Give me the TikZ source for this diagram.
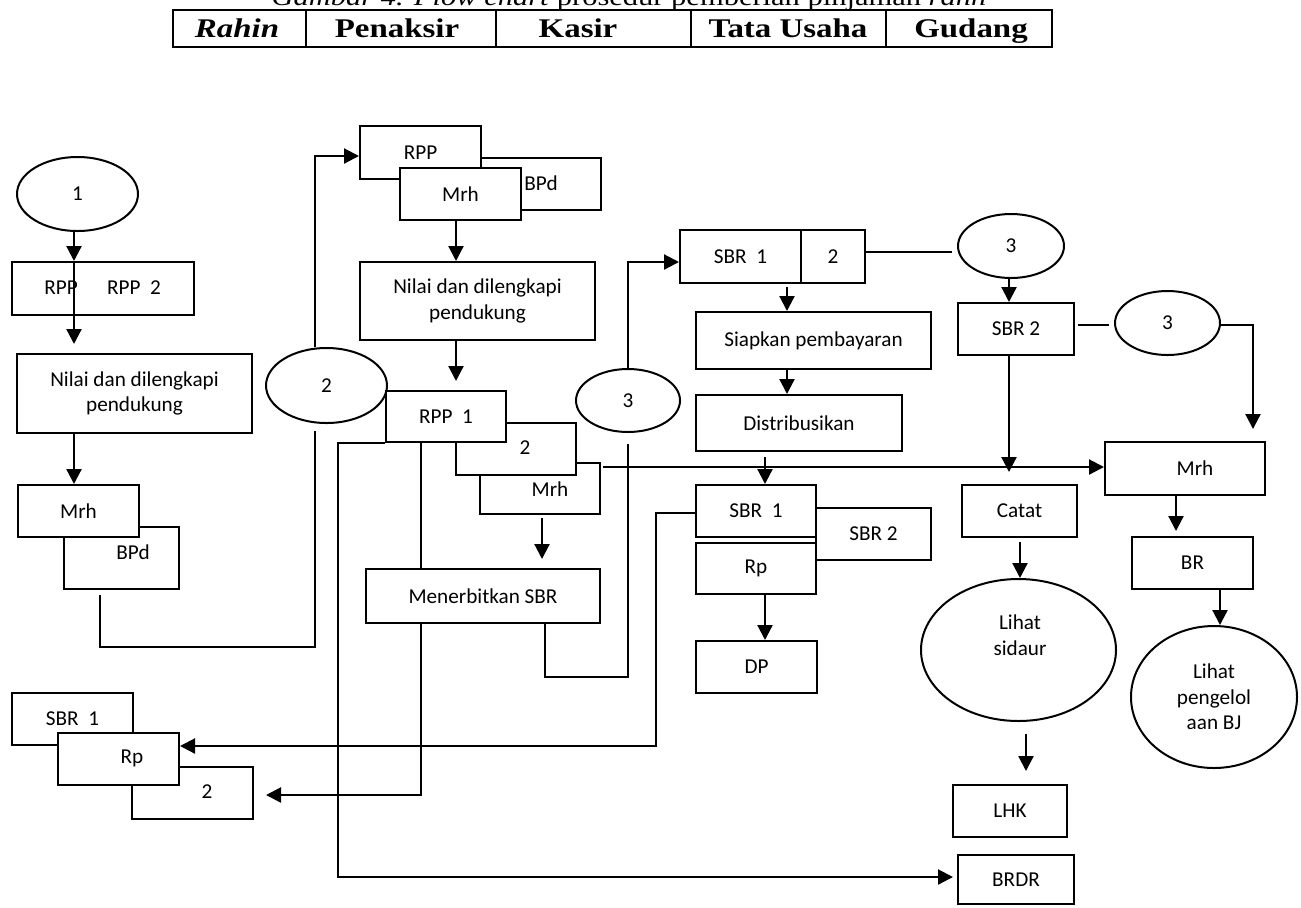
\documentclass[tikz,border=0pt]{standalone}
\usepackage{fontspec}
\setmainfont{Carlito}
\newfontfamily\hdrfont[FakeStretch=1.22]{Liberation Serif}
\usetikzlibrary{arrows.meta,fit,shapes.geometric}
\tikzset{
  txt/.style={font=\fontsize{10.6}{12.8}\selectfont},
  box/.style={txt, draw, line width=1pt, fill=white, rectangle, inner sep=0pt, align=center},
  ell/.style={txt, draw, line width=1pt, fill=white, ellipse, inner sep=0pt, align=center},
  lbl/.style={txt, inner sep=0pt, align=center},
  con/.style={line width=1.1pt},
  arr/.style={con, -{Triangle[width=7.5pt,length=7.5pt]}},
  hcell/.style={draw, line width=1.4pt, rectangle, inner sep=0pt},
  htxt/.style={anchor=base, inner sep=0pt, font=\hdrfont\bfseries\fontsize{13.5}{16}\selectfont},
}
% #1 style, #2 name, #3 x1, #4 y1, #5 x2, #6 y2, #7 text
\newcommand{\bx}[7][box]{%
  \pgfmathsetmacro\bxcx{(#3+#5)/2}\pgfmathsetmacro\bxcy{(#4+#6)/2}%
  \pgfmathsetmacro\bxww{(#5-#3)*0.5}\pgfmathsetmacro\bxhh{(#6-#4)*0.5}%
  \node[#1, minimum width=\bxww pt, minimum height=\bxhh pt] (#2) at (\bxcx,\bxcy) {#7};}
\begin{document}
\begin{tikzpicture}[x=0.5pt,y=-0.5pt]
\useasboundingbox (0,0) rectangle (1301,907);
% caption (cut at top, as in the source)
\node[anchor=base, inner sep=0pt, font=\hdrfont\fontsize{12.5}{15}\selectfont] (cap) at (629,5) {\textit{Gambar 4. Flow chart} prosedur pemberian pinjaman \textit{rahn}};
% header
\bx[hcell]{hR}{173}{10}{306}{47}{}
\bx[hcell]{hP}{306}{10}{496}{47}{}
\bx[hcell]{hK}{496}{10}{691}{47}{}
\bx[hcell]{hT}{691}{10}{886}{47}{}
\bx[hcell]{hG}{886}{10}{1052}{47}{}
\node[htxt] (tR) at (237,37) {\itshape Rahin};
\node[htxt] (tP) at (397,37) {Penaksir};
\node[htxt] (tK) at (578,37) {Kasir};
\node[htxt] (tT) at (788,37) {Tata Usaha};
\node[htxt] (tG) at (971,37) {Gudang};
% column helpers
\coordinate (xA) at (74,0);
\coordinate (xB) at (100,0);
\coordinate (xP) at (456,0);
\coordinate (xM) at (542,0);
\coordinate (xE) at (545,0);
\coordinate (xK) at (787,0);
\coordinate (xD) at (765,0);
\coordinate (xT) at (1009,0);
\coordinate (xC) at (1020,0);
\coordinate (xL) at (1026,0);
\coordinate (xG) at (1176,0);
\coordinate (xH) at (1220,0);
% Rahin
\bx[ell]{e1}{17}{157}{138}{231}{1}
\bx{rppL}{12}{262}{194}{315}{}
\node[lbl] (rppLa) at (61,288) {RPP};
\node[lbl] (rppLb) at (134,288) {RPP~~2};
\bx{nilL}{17}{354}{252}{433}{Nilai dan dilengkapi\\pendukung}
\bx{bpdL}{64}{527}{179}{589}{}
\node[lbl] (bpdLt) at (133,552) {BPd};
\bx{mrhL}{18}{485}{139}{537}{Mrh}
\bx[ell]{e2}{266}{348}{387}{423}{2}
% Penaksir
\bx{bpdT}{480}{158}{601}{210}{}
\node[lbl] (bpdTt) at (541,183) {BPd};
\bx{rppT}{360}{126}{481}{179}{RPP}
\bx{mrhT}{400}{168}{521}{220}{Mrh}
\bx{nilT}{360}{262}{595}{340}{Nilai dan dilengkapi\\pendukung}
\bx{mrhM}{480}{463}{600}{514}{}
\node[lbl] (mrhMt) at (550,489) {Mrh};
\bx{b2M}{456}{423}{576}{475}{}
\node[lbl] (b2Mt) at (525,448) {2};
\bx{rpp1}{386}{391}{506}{442}{RPP~~1}
% Rahin bottom
\bx{sbr1L}{12}{693}{133}{745}{SBR~~1}
\bx{b2L}{132}{767}{253}{819}{}
\node[lbl] (b2Lt) at (207,792) {2};
\bx{rpL}{58}{733}{179}{785}{}
\node[lbl] (rpLt) at (132,758) {Rp};
\coordinate (kc) at (421,795);
\draw[arr, shorten >=6pt] (rpp1.south -| kc) -- (kc) -- (b2L.east |- kc);
\bx{men}{366}{569}{600}{623}{Menerbitkan SBR}
% Kasir
\bx[ell]{e3}{576}{369}{680}{432}{3}
\bx{sbr1a}{680}{230}{801}{283}{SBR~~1}
\bx{sbr1b}{801}{230}{865}{283}{2}
\bx{siap}{696}{312}{931}{369}{Siapkan pembayaran}
\bx{dist}{696}{395}{902}{451}{Distribusikan}
\bx{sbr2k}{816}{508}{931}{560}{SBR 2}
\bx{sbr1k}{696}{485}{816}{537}{SBR~~1}
\bx{rpK}{696}{543}{816}{594}{Rp}
\bx{dp}{696}{641}{817}{693}{DP}
% Tata Usaha
\bx[ell]{e3b}{958}{214}{1064}{278}{3}
\bx{sbr2}{958}{303}{1074}{355}{SBR 2}
\bx{catat}{962}{485}{1077}{537}{Catat}
\bx[ell]{ls}{921}{579}{1116}{721}{}
\node[lbl] (lst) at (1020,635) {Lihat\\sidaur};
\bx{lhk}{953}{785}{1067}{837}{LHK}
\bx{brdr}{958}{855}{1074}{904}{BRDR}
% Gudang
\bx[ell]{e3c}{1115}{291}{1220}{355}{3}
\bx{mrhG}{1105}{442}{1265}{495}{}
\node[lbl] (mrhGt) at (1195,468) {Mrh};
\bx{br}{1132}{537}{1253}{589}{BR}
\bx[ell]{lp}{1131}{626}{1297}{768}{Lihat\\pengelol\\aan BJ}
% connectors
\draw[arr] (e1.south -| xA) -- (rppL.north -| xA);
\draw[arr, shorten >=4.5pt] (rppL.north -| xA) -- (nilL.north -| xA);
\draw[arr] (nilL.south -| xA) -- (mrhL.north -| xA);
\coordinate (k1) at (315,647);
\draw[con, shorten <=2.5pt, shorten >=3.5pt] (bpdL.south -| xB) |- (k1) -- (e2.south -| k1);
\coordinate (k2) at (315,156);
\draw[arr] (e2.north -| k2) -- (k2) -- (rppT.west |- k2);
\draw[arr] (mrhT.south -| xP) -- (nilT.north -| xP);
\draw[arr, shorten >=4.5pt] (nilT.south -| xP) -- (rpp1.north -| xP);
\draw[arr, shorten <=1.5pt, shorten >=4.5pt] (mrhM.south -| xM) -- (men.north -| xM);
\coordinate (kb) at (338,877);
\draw[arr, shorten >=2pt] (rpp1.south west) -| (kb) -- (brdr.west |- kb);
\coordinate (kd) at (628,677);
\draw[con, shorten >=5.5pt] (men.south -| xE) |- (kd) -- (e3.south);
\coordinate (kf) at (628,262);
\draw[arr] (e3.north) -- (kf) -- (sbr1a.west |- kf);
\coordinate (kj) at (603,467);
\draw[arr] (kj) -- (mrhG.west |- kj);
\coordinate (kg) at (0,252);
\draw[con, shorten >=2.5pt] (sbr1b.east |- kg) -- (e3b.west |- kg);
\draw[arr] (e3b.south -| xT) -- (sbr2.north -| xT);
\coordinate (kh) at (0,325);
\draw[con, shorten <=1.5pt, shorten >=2.5pt] (sbr2.east |- kh) -- (e3c.west |- kh);
\coordinate (ki) at (1253,325);
\draw[arr, shorten >=6pt] (e3c.east |- ki) -- (ki) -- (mrhG.north -| ki);
\draw[arr, shorten >=6pt] (sbr2.south -| xT) -- (catat.north -| xT);
\draw[arr, shorten <=1.5pt] (sbr1a.south -| xK) -- (siap.north -| xK);
\draw[arr] (siap.south -| xK) -- (dist.north -| xK);
\draw[arr, shorten <=2.5pt] (dist.south -| xD) -- (sbr1k.north -| xD);
\draw[arr] (rpK.south -| xD) -- (dp.north -| xD);
\coordinate (kl) at (656,513);
\coordinate (km) at (656,746);
\draw[arr] (sbr1k.west |- kl) -- (kl) -- (km) -- (rpL.east |- km);
\draw[arr, shorten <=2pt] (catat.south -| xC) -- (ls.north -| xC);
\draw[arr, shorten <=6pt, shorten >=6.5pt] (ls.south -| xL) -- (lhk.north -| xL);
\draw[arr, shorten >=2.5pt] (mrhG.south -| xG) -- (br.north -| xG);
\draw[arr] (br.south -| xH) -- (lp.north -| xH);
\end{tikzpicture}
\end{document}
